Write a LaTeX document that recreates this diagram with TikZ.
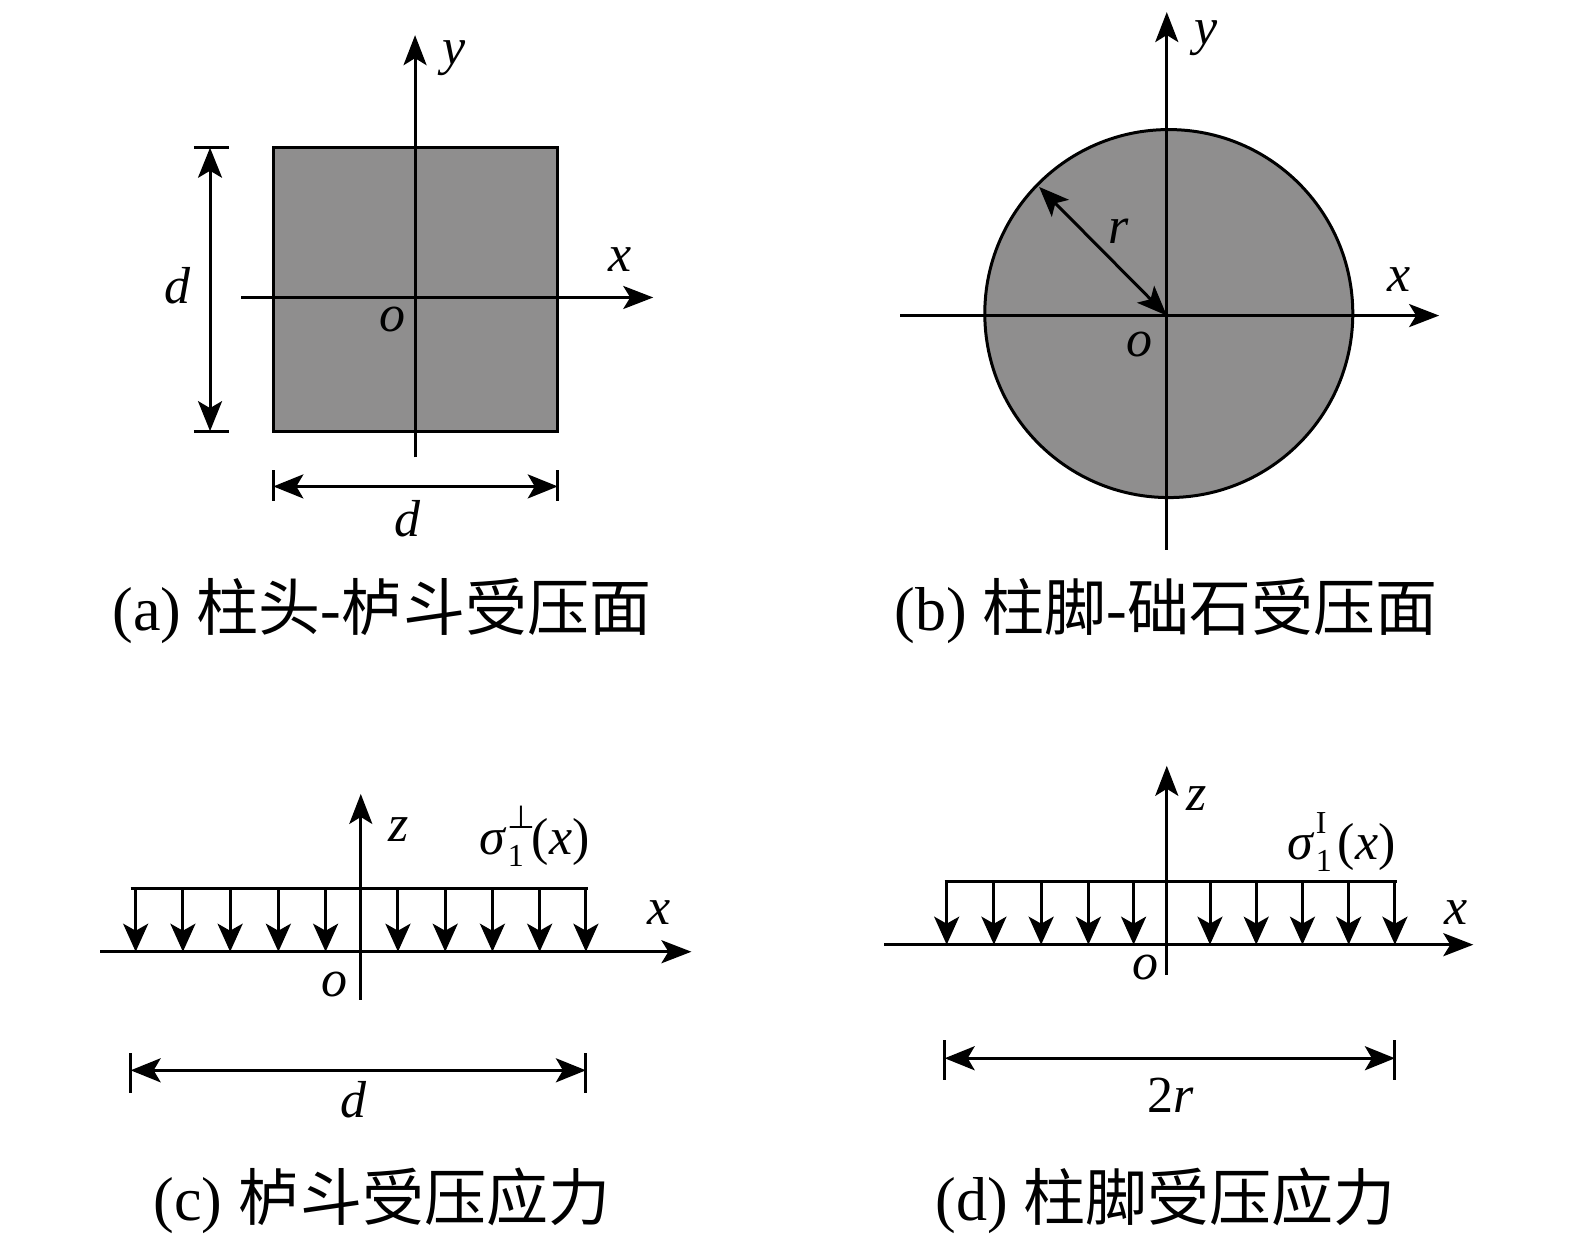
\documentclass[tikz,border=0pt]{standalone}
\usepackage{fontspec}
\setmainfont{Liberation Serif}
\newfontfamily\cjk{Noto Sans CJK SC}
\newfontfamily\symf{DejaVu Sans}
\usetikzlibrary{arrows.meta}
\definecolor{fillgray}{HTML}{8F8E8E}
\tikzset{
  ln/.style={line width=3bp, black},
  axarrow/.style={ln, -{Stealth[length=30bp,width=23bp,inset=7bp]}},
  ldarrow/.style={ln, -{Stealth[length=28bp,width=25bp,inset=7bp]}},
  dimarrow/.style={ln, {Stealth[length=30bp,width=24bp,inset=7bp]}-{Stealth[length=30bp,width=24bp,inset=7bp]}},
  lab/.style={inner sep=0pt, font=\fontsize{52bp}{56bp}\selectfont\itshape},
  captext/.style={inner sep=0pt, font=\fontsize{62bp}{66bp}\selectfont},
}
\newcommand{\sigmalab}[2]{\textit{σ}\kern1bp\makebox[0pt][l]{\raisebox{-12bp}{\fontsize{32bp}{32bp}\selectfont\upshape 1}}\makebox[#2][l]{\raisebox{26bp}{\fontsize{32bp}{32bp}\selectfont\upshape #1}}\upshape(\textit{x})}
\begin{document}
\begin{tikzpicture}[x=1.005bp,y=-1.005bp]
\useasboundingbox (0,0) rectangle (1567.2,1239.8);
% ---------- (a)
\node[draw, ln, fill=fillgray, minimum width=284.4bp, minimum height=283.4bp, inner sep=0pt] (sq) at (413.5,288) {};
\coordinate (ayb) at (413,455); \coordinate (ayt) at (413,35);
\coordinate (axl) at (240,296); \coordinate (axr) at (650,296);
\draw[axarrow] (ayb) -- (ayt);
\draw[axarrow] (axl) -- (axr);
\node[lab] (ay) at (452,58) {y};
\node[lab] (ax) at (617,258) {x};
\node[lab] (ao) at (391,318) {o};
% left dimension
\coordinate (lt1) at (193,147); \coordinate (lt2) at (228,147);
\coordinate (lb1) at (193,429); \coordinate (lb2) at (228,429);
\coordinate (lt) at (209,147); \coordinate (lb) at (209,429);
\draw[ln] (lt1) -- (lt2);
\draw[ln] (lb1) -- (lb2);
\draw[dimarrow] (lt) -- (lb);
\node[lab] (ad1) at (177,284) {d};
% bottom dimension
\coordinate (bl1) at (272,468); \coordinate (bl2) at (272,499);
\coordinate (br1) at (555,468); \coordinate (br2) at (555,499);
\coordinate (bl) at (272,484); \coordinate (br) at (555,484);
\draw[ln] (bl1) -- (bl2);
\draw[ln] (br1) -- (br2);
\draw[dimarrow] (bl) -- (br);
\node[lab] (ad2) at (405,516) {d};
\node[captext] (capa) at (380,608) {(a) {\cjk 柱头}-{\cjk 栌斗受压面}};
% ---------- (b)
\node[draw, ln, circle, fill=fillgray, minimum size=368bp, inner sep=0pt] (circ) at (1163,312) {};
\coordinate (byb) at (1161,547); \coordinate (byt) at (1161,12);
\coordinate (bxl) at (896,314); \coordinate (bxr) at (1432,314);
\coordinate (bo) at (1161,314); \coordinate (br0) at (1034,186);
\draw[axarrow] (byb) -- (byt);
\draw[axarrow] (bxl) -- (bxr);
\draw[dimarrow] (br0) -- (bo);
\node[lab] (by) at (1200,38) {y};
\node[lab] (bx) at (1392,278) {x};
\node[lab] (bol) at (1134,343) {o};
\node[lab] (brl) at (1113,230) {r};
\node[captext] (capb) at (1160,608) {(b) {\cjk 柱脚}-{\cjk 础石受压面}};
% ---------- (c)
\coordinate (cxl) at (100,947); \coordinate (cxr) at (688,947);
\coordinate (czb) at (359,995); \coordinate (czt) at (359,790);
\draw[axarrow] (cxl) -- (cxr);
\draw[axarrow] (czb) -- (czt);
\coordinate (cll) at (130,884); \coordinate (clr) at (585,884);
\draw[ln] (cll) -- (clr);
\foreach \i/\xx in {1/135,2/182,3/229,4/277,5/324,6/396,7/443,8/490,9/537,10/583}{
  \coordinate (ct\i) at (\xx,884); \coordinate (cb\i) at (\xx,947);
  \draw[ldarrow] (ct\i) -- (cb\i);
}
\node[lab] (cz) at (397,825) {z};
\node[lab] (cx) at (656,908) {x};
\node[lab] (co) at (333,980) {o};
\node[lab, font=\fontsize{52bp}{56bp}\selectfont] (csig) at (532,832) {\sigmalab{{\symf ⊥}}{24bp}};
\coordinate (cd1a) at (130,1048); \coordinate (cd1b) at (130,1088);
\coordinate (cd2a) at (583,1048); \coordinate (cd2b) at (583,1088);
\coordinate (cdl) at (130,1065); \coordinate (cdr) at (583,1065);
\draw[ln] (cd1a) -- (cd1b);
\draw[ln] (cd2a) -- (cd2b);
\draw[dimarrow] (cdl) -- (cdr);
\node[lab] (cd) at (352,1094) {d};
\node[captext] (capc) at (380,1195) {(c) {\cjk 栌斗受压应力}};
% ---------- (d)
\coordinate (dxl) at (880,940); \coordinate (dxr) at (1466,940);
\coordinate (dzb) at (1161,970); \coordinate (dzt) at (1161,762);
\draw[axarrow] (dxl) -- (dxr);
\draw[axarrow] (dzb) -- (dzt);
\coordinate (dll) at (940,877); \coordinate (dlr) at (1390,877);
\draw[ln] (dll) -- (dlr);
\foreach \i/\xx in {1/942,2/989,3/1036,4/1083,5/1128,6/1204,7/1250,8/1296,9/1342,10/1388}{
  \coordinate (dt\i) at (\xx,877); \coordinate (db\i) at (\xx,940);
  \draw[ldarrow] (dt\i) -- (db\i);
}
\node[lab] (dz) at (1191,795) {z};
\node[lab] (dx) at (1449,908) {x};
\node[lab] (dol) at (1140,963) {o};
\node[lab, font=\fontsize{52bp}{56bp}\selectfont] (dsig) at (1335,838) {\sigmalab{I}{22bp}};
\coordinate (dd1a) at (940,1035); \coordinate (dd1b) at (940,1075);
\coordinate (dd2a) at (1388,1035); \coordinate (dd2b) at (1388,1075);
\coordinate (ddl) at (940,1053); \coordinate (ddr) at (1388,1053);
\draw[ln] (dd1a) -- (dd1b);
\draw[ln] (dd2a) -- (dd2b);
\draw[dimarrow] (ddl) -- (ddr);
\node[lab, font=\fontsize{52bp}{56bp}\selectfont] (dd) at (1165,1090) {2\textit{r}};
\node[captext] (capd) at (1160,1195) {(d) {\cjk 柱脚受压应力}};
\end{tikzpicture}
\end{document}
